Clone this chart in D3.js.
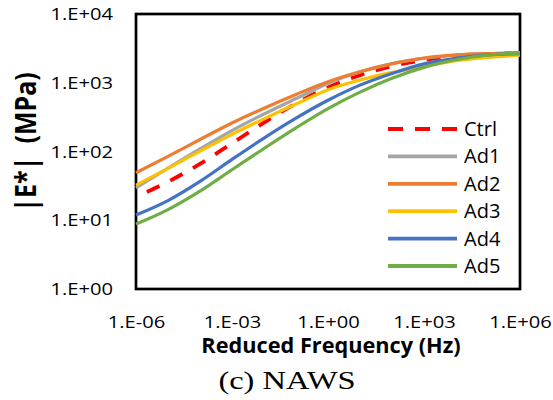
<!DOCTYPE html>
<html>
<head>
<meta charset="utf-8">
<script src="https://cdn.jsdelivr.net/npm/d3@7"></script>
<style>
  body { margin: 0; background: #fff; }
  svg { display: block; }
</style>
</head>
<body>
<svg id="chart" width="553" height="400"></svg>
<script>
// reduced frequency (Hz), one point per decade
var freq = [1e-6, 1e-5, 1e-4, 1e-3, 1e-2, 1e-1, 1e0, 1e1, 1e2, 1e3, 1e4, 1e5, 1e6];

// |E*| in MPa
var ctrl = [21.9, 36.3, 66.1, 131.8, 263, 501, 851, 1288, 1738, 2138, 2427, 2600, 2723];
var ad1  = [29.5, 57.5, 109.6, 201.8, 350.8, 588.8, 977, 1445, 1905, 2265, 2512, 2661, 2723];
var ad2  = [49, 85.1, 149.6, 260, 426.6, 676, 1035, 1445, 1884, 2291, 2541, 2661, 2723];
var ad3  = [32.4, 56.9, 101.2, 177.8, 298.5, 489.8, 794, 1096, 1413, 1718, 2089, 2344, 2512];
var ad4  = [11.9, 19.3, 36.7, 76.7, 156.7, 305.5, 556, 923, 1365, 1884, 2265, 2541, 2661];
var ad5  = [8.8, 14.3, 26.5, 54.2, 110.7, 220.8, 420.7, 731, 1159, 1675, 2158, 2535, 2685];

var seriesNames = ["Ctrl", "Ad1", "Ad2", "Ad3", "Ad4", "Ad5"];
var seriesValues = [ctrl, ad1, ad2, ad3, ad4, ad5];
var seriesColors = ["#FF0000", "#A5A5A5", "#ED7D31", "#FFC000", "#4472C4", "#70AD47"];

var xTickVals = [1e-6, 1e-3, 1e0, 1e3, 1e6];
var xTickLabels = ["1.E-06", "1.E-03", "1.E+00", "1.E+03", "1.E+06"];
var yTickVals = [1, 10, 100, 1000, 10000];
var yTickLabels = ["1.E+00", "1.E+01", "1.E+02", "1.E+03", "1.E+04"];

var svg = d3.select("#chart");
// note: "top" is taken by window.top, so plot edges get their own names
var plotLeft = 136, plotRight = 520, plotTop = 14, plotBottom = 289;

var x = d3.scaleLog().domain([1e-6, 1e6]).range([plotLeft, plotRight]);
var y = d3.scaleLog().domain([1, 1e4]).range([plotBottom, plotTop]);

// plot frame
svg.append("rect")
    .attr("x", plotLeft).attr("y", plotTop)
    .attr("width", plotRight - plotLeft).attr("height", plotBottom - plotTop)
    .attr("fill", "none")
    .attr("stroke", "#000")
    .attr("stroke-width", 2.7);

// x axis labels
var tickScale = 1.3;
var gx = svg.append("g")
    .attr("transform", "translate(0," + plotBottom + ")")
    .call(d3.axisBottom(x).tickValues(xTickVals)
      .tickFormat(function(d, i) { return xTickLabels[i]; })
      .tickSize(0).tickPadding(0));
gx.select(".domain").remove();
gx.selectAll("text")
    .attr("y", 39).attr("dy", null)
    .attr("transform", "scale(" + tickScale + ",1)")
    .style("font-family", "'Open Sans', sans-serif")
    .style("font-size", "15.5px")
    .style("fill", "#000");

// y axis labels
var gy = svg.append("g")
    .attr("transform", "translate(" + plotLeft + ",0)")
    .call(d3.axisLeft(y).tickValues(yTickVals)
      .tickFormat(function(d, i) { return yTickLabels[i]; })
      .tickSize(0).tickPadding(0));
gy.select(".domain").remove();
gy.selectAll("text")
    .attr("x", -23 / tickScale).attr("dy", "0.36em")
    .attr("transform", "scale(" + tickScale + ",1)")
    .style("font-family", "'Open Sans', sans-serif")
    .style("font-size", "15.5px")
    .style("fill", "#000");

// curves
var line = d3.line()
    .x(function(d, i) { return x(freq[i]); })
    .y(function(d) { return y(d); })
    .curve(d3.curveMonotoneX);

seriesValues.forEach(function(vals, k) {
  var p = svg.append("path")
      .datum(vals)
      .attr("d", line)
      .attr("fill", "none")
      .attr("stroke", seriesColors[k])
      .attr("stroke-width", k == 0 ? 3.8 : 3.2);
  if (k == 0) {
    p.attr("stroke-dasharray", "14,12").attr("stroke-dashoffset", 14);
  }
});

// legend
var legend = svg.append("g");
seriesNames.forEach(function(name, k) {
  var ly = 129 + k * 27.4;
  var l = legend.append("line")
      .attr("x1", 388).attr("x2", 457)
      .attr("y1", ly).attr("y2", ly)
      .attr("stroke", seriesColors[k])
      .attr("stroke-width", 3.8);
  if (k == 0) l.attr("stroke-dasharray", "15,12");
  legend.append("text")
      .attr("x", 464).attr("y", ly + 7)
      .style("font-family", "'Open Sans', sans-serif")
      .style("font-size", "20px")
      .text(name);
});

// axis titles
svg.append("g")
    .attr("transform", "translate(331,353) scale(1.06,1)")
  .append("text")
    .attr("text-anchor", "middle")
    .style("font-family", "'Open Sans', sans-serif")
    .style("font-weight", "bold")
    .style("font-size", "20.5px")
    .text("Reduced Frequency (Hz)");

svg.append("g")
    .attr("transform", "translate(36,142) scale(1.15,1) rotate(-90)")
  .append("text")
    .attr("text-anchor", "middle")
    .style("font-family", "'Open Sans', sans-serif")
    .style("font-weight", "bold")
    .style("font-size", "25px")
    .style("white-space", "pre")
    .text("|E*|  (MPa)");

// caption
svg.append("g")
    .attr("transform", "translate(287,389) scale(1.25,1)")
  .append("text")
    .attr("text-anchor", "middle")
    .style("font-family", "'Liberation Serif', 'Times New Roman', serif")
    .style("font-size", "26px")
    .text("(c) NAWS");
</script>
</body>
</html>
